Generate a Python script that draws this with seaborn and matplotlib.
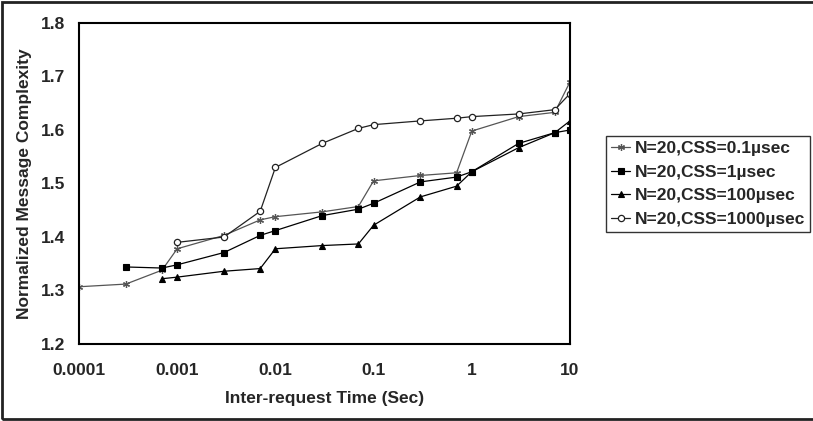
import matplotlib
matplotlib.use("Agg")
import matplotlib.pyplot as plt
import seaborn as sns
import pandas as pd
from matplotlib.patches import Rectangle

sns.set_theme(style="white")
plt.rcParams['font.family'] = ['Liberation Sans', 'DejaVu Sans']
plt.rcParams['font.weight'] = 'bold'

# Data
x_css01 = [0.0001, 0.0003, 0.0007, 0.001, 0.003, 0.007, 0.01, 0.03, 0.07, 0.1, 0.3, 0.7, 1, 3, 7, 10]
y_css01 = [1.307, 1.312, 1.338, 1.378, 1.403, 1.432, 1.438, 1.447, 1.457, 1.505, 1.515, 1.520, 1.598, 1.625, 1.633, 1.690]

x_css1 = [0.0003, 0.0007, 0.001, 0.003, 0.007, 0.01, 0.03, 0.07, 0.1, 0.3, 0.7, 1, 3, 7, 10]
y_css1 = [1.344, 1.342, 1.348, 1.371, 1.403, 1.412, 1.440, 1.452, 1.463, 1.503, 1.512, 1.522, 1.575, 1.595, 1.600]

x_css100 = [0.0007, 0.001, 0.003, 0.007, 0.01, 0.03, 0.07, 0.1, 0.3, 0.7, 1, 3, 7, 10]
y_css100 = [1.322, 1.325, 1.336, 1.341, 1.378, 1.384, 1.387, 1.422, 1.475, 1.495, 1.522, 1.567, 1.595, 1.617]

x_css1000 = [0.001, 0.003, 0.007, 0.01, 0.03, 0.07, 0.1, 0.3, 0.7, 1, 3, 7, 10]
y_css1000 = [1.390, 1.400, 1.448, 1.530, 1.575, 1.603, 1.610, 1.617, 1.622, 1.625, 1.630, 1.638, 1.668]

labels = ["N=20,CSS=0.1µsec", "N=20,CSS=1µsec", "N=20,CSS=100µsec", "N=20,CSS=1000µsec"]
x_ticks = [0.0001, 0.001, 0.01, 0.1, 1, 10]
x_ticklabels = ["0.0001", "0.001", "0.01", "0.1", "1", "10"]
y_ticks = [1.2, 1.3, 1.4, 1.5, 1.6, 1.7, 1.8]
y_ticklabels = ["1.2", "1.3", "1.4", "1.5", "1.6", "1.7", "1.8"]

series = [(x_css01, y_css01), (x_css1, y_css1), (x_css100, y_css100), (x_css1000, y_css1000)]
styles = [
    dict(marker=(6, 2, 0), color='#555555', markersize=5, mew=0.9, mfc='#555555', mec='#555555'),
    dict(marker='s', color='black', markersize=4.5, mew=0.8, mfc='black', mec='black'),
    dict(marker='^', color='black', markersize=4.0, mew=0.8, mfc='black', mec='black'),
    dict(marker='o', color='#222222', markersize=4.5, mew=0.9, mfc='white', mec='#222222'),
]

fig = plt.figure(figsize=(8.13, 4.21), dpi=100)
ax = fig.add_axes([79/813, 1-344/421, (570-79)/813, (344-23)/421])

for (xs, ys), lab, st in zip(series, labels, styles):
    df = pd.DataFrame({"x": xs, "y": ys})
    sns.lineplot(data=df, x="x", y="y", ax=ax, label=lab, linewidth=0.9,
                 marker=st['marker'], color=st['color'], markersize=st['markersize'],
                 markeredgewidth=st['mew'], markerfacecolor=st['mfc'],
                 markeredgecolor=st['mec'], sort=False)

ax.set_xscale('log')
ax.set_xlim(0.0001, 10)
ax.set_ylim(1.2, 1.8)
ax.set_xticks(x_ticks)
ax.set_xticklabels(x_ticklabels)
ax.minorticks_off()
ax.set_yticks(y_ticks)
ax.set_yticklabels(y_ticklabels)
ax.tick_params(axis='both', which='major', labelsize=12.5, length=3, width=1,
               color='#999999', direction='out')
ax.tick_params(axis='x', pad=11)
ax.tick_params(axis='y', pad=7)
for lbl in ax.get_xticklabels() + ax.get_yticklabels():
    lbl.set_fontweight('bold')
ax.set_xlabel("Inter-request Time (Sec)", fontsize=12.5, fontweight='bold', labelpad=9)
ax.set_ylabel("Normalized Message Complexity", fontsize=12.5, fontweight='bold', labelpad=6)
for sp in ax.spines.values():
    sp.set_color('black')
    sp.set_linewidth(1.5)
ax.grid(False)

leg = ax.legend(loc='upper left', bbox_to_anchor=(606/813, 1-136/421),
                bbox_transform=fig.transFigure, frameon=True, fancybox=False,
                fontsize=12.5, handlelength=1.1, handletextpad=0.25, borderpad=0.3,
                labelspacing=0.48, borderaxespad=0)
leg.get_frame().set_edgecolor('black')
leg.get_frame().set_linewidth(1.0)
for t in leg.get_texts():
    t.set_fontweight('bold')

fig.patches.append(Rectangle((0.003, 0.004), 1.2, 0.992, transform=fig.transFigure,
                             fill=False, edgecolor='#222222', linewidth=2))

fig.savefig("out.png", dpi=100)
